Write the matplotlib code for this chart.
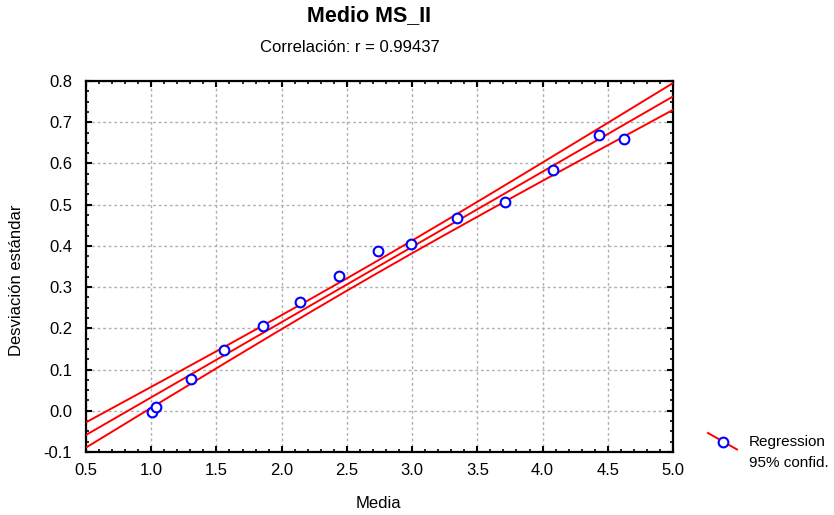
import numpy as np
import matplotlib.pyplot as plt
from matplotlib.lines import Line2D
from matplotlib.ticker import MultipleLocator

plt.rcParams['font.family'] = ['Liberation Sans', 'DejaVu Sans']

# data
media = [1.004, 1.037, 1.303, 1.561, 1.855, 2.141, 2.438, 2.739, 2.995,
         3.347, 3.713, 4.079, 4.432, 4.623]
desv = [-0.004, 0.010, 0.076, 0.147, 0.206, 0.263, 0.327, 0.388, 0.405,
        0.467, 0.506, 0.584, 0.668, 0.659]
title = 'Medio MS_II'
subtitle = 'Correlación: r = 0.99437'
legend_labels = ['Regression', '95% confid.']

x = np.array(media)
y = np.array(desv)
n = len(x)
b, a = np.polyfit(x, y, 1)
resid = y - (a + b * x)
s = np.sqrt(np.sum(resid ** 2) / (n - 2))
t = 2.179  # t(0.975, 12)
xs = np.linspace(0.5, 5.0, 200)
yhat = a + b * xs
se = s * np.sqrt(1.0 / n + (xs - x.mean()) ** 2 / np.sum((x - x.mean()) ** 2))

W, H = 834, 515
fig = plt.figure(figsize=(W / 100, H / 100), dpi=100)
ax = fig.add_axes([86 / W, 1 - 452 / H, 587 / W, 371 / H])

ax.plot(xs, yhat, color='red', lw=1.4, zorder=3)
ax.plot(xs, yhat + t * se, color='red', lw=1.4, zorder=3)
ax.plot(xs, yhat - t * se, color='red', lw=1.4, zorder=3)
ax.plot(x, y, 'o', ms=7, mfc='white', mec='blue', mew=1.5, zorder=4)

ax.set_xlim(0.5, 5.0)
ax.set_ylim(-0.1, 0.8)
ax.xaxis.set_major_locator(MultipleLocator(0.5))
ax.xaxis.set_minor_locator(MultipleLocator(0.1))
ax.yaxis.set_major_locator(MultipleLocator(0.1))
ax.yaxis.set_minor_locator(MultipleLocator(0.025))
ax.xaxis.set_major_formatter(plt.FormatStrFormatter('%.1f'))
ax.yaxis.set_major_formatter(plt.FormatStrFormatter('%.1f'))
ax.tick_params(which='both', direction='in', top=True, right=True, labelsize=12)
ax.tick_params(axis='x', pad=8)
ax.tick_params(axis='y', pad=10)
ax.tick_params(which='major', length=4, width=1.5)
ax.tick_params(which='minor', length=2.5, width=1.2)
ax.grid(True, which='major', color='#b0b0b0', ls=(0, (2, 2)), lw=1)
for sp in ax.spines.values():
    sp.set_linewidth(1.6)

fig.text(378 / W, 1 - 503 / H, 'Media', ha='center', va='center', fontsize=12)
fig.text(17 / W, 1 - 280 / H, 'Desviación estándar', ha='center', va='center',
         rotation=90, fontsize=12)

fig.text(369 / W, 1 - 16 / H, title, ha='center', va='center', fontsize=15.5, fontweight='bold')
fig.text(350 / W, 1 - 47 / H, subtitle, ha='center', va='center', fontsize=12)

# legend drawn by hand: slanted line through the marker
fig.add_artist(Line2D([708 / W, 737 / W], [1 - 433 / H, 1 - 449.5 / H], color='red', lw=1.4,
                      transform=fig.transFigure))
fig.add_artist(Line2D([723 / W], [1 - 441.5 / H], marker='o', ms=7, mfc='white', mec='blue',
                      mew=1.5, transform=fig.transFigure))
fig.text(749 / W, 1 - 442 / H, legend_labels[0], ha='left', va='center', fontsize=11)
fig.text(749 / W, 1 - 463 / H, legend_labels[1], ha='left', va='center', fontsize=11)

fig.savefig('out.png', dpi=100)
